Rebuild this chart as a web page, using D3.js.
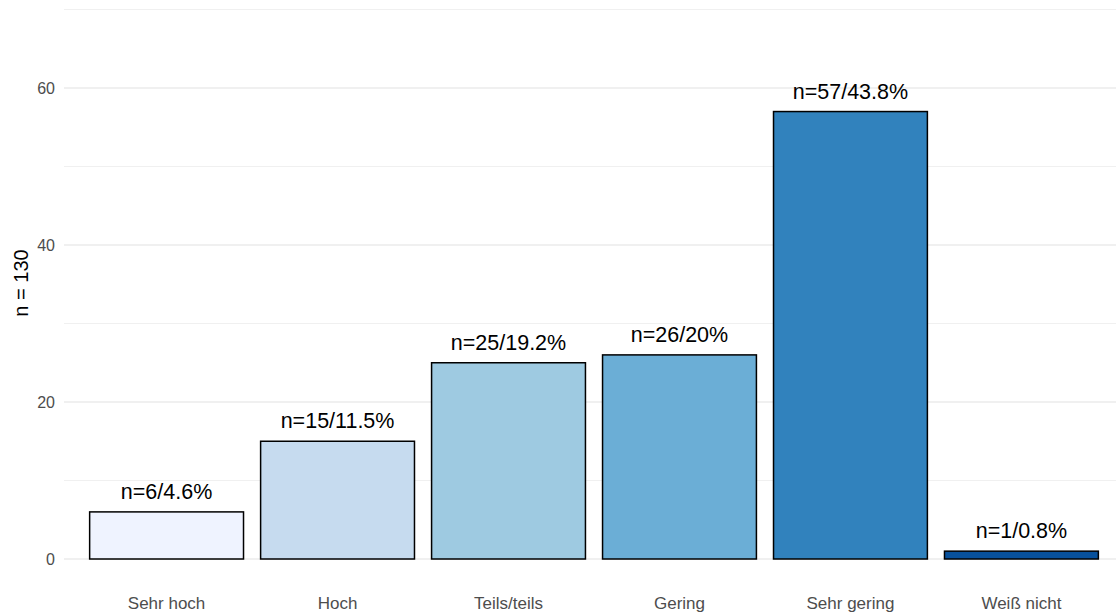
<!DOCTYPE html>
<html>
<head>
<meta charset="utf-8">
<script src="https://cdn.jsdelivr.net/npm/d3@7"></script>
<style>
  html, body { margin: 0; padding: 0; background: #fff; }
  svg { display: block; font-family: "Liberation Sans", Arial, sans-serif; }
</style>
</head>
<body>
<svg id="chart" width="1116" height="614"></svg>
<script>
const categories = ["Sehr hoch", "Hoch", "Teils/teils", "Gering", "Sehr gering", "Weiß nicht"];
const counts = [6, 15, 25, 26, 57, 1];
const labels = ["n=6/4.6%", "n=15/11.5%", "n=25/19.2%", "n=26/20%", "n=57/43.8%", "n=1/0.8%"];
const colors = ["#EFF3FF", "#C6DBEF", "#9ECAE1", "#6BAED6", "#3182BD", "#08519C"];
const majorTicks = [0, 20, 40, 60];
const minorTicks = [10, 30, 50, 70];
const yTitle = "n = 130";

const svg = d3.select("#chart");
const W = 1116;

const x = d3.scaleBand().domain(categories).range([64, 1124]).paddingInner(0.1).paddingOuter(0.15);
const y = d3.scaleLinear().domain([0, 60]).range([559, 88]);

const grid = svg.append("g");
grid.selectAll("line.minor").data(minorTicks).enter().append("line")
  .attr("x1", 64).attr("x2", W)
  .attr("y1", d => y(d)).attr("y2", d => y(d))
  .attr("stroke", "#f0f0f0").attr("stroke-width", 1.2);
grid.selectAll("line.major").data(majorTicks).enter().append("line")
  .attr("x1", 64).attr("x2", W)
  .attr("y1", d => y(d)).attr("y2", d => y(d))
  .attr("stroke", "#ebebeb").attr("stroke-width", 1.5);

// y axis labels
const yAxis = d3.axisLeft(y).tickValues(majorTicks).tickSize(0).tickPadding(9);
const gy = svg.append("g").attr("transform", "translate(64,0)").call(yAxis);
gy.select(".domain").remove();
gy.selectAll("text").attr("fill", "#4d4d4d").style("font-size", "16px")
  .style("font-family", "'Liberation Sans', Arial, sans-serif");

// x axis labels
const xAxis = d3.axisBottom(x).tickSize(0).tickPadding(0);
const gx = svg.append("g").attr("transform", "translate(0,597)").call(xAxis);
gx.select(".domain").remove();
gx.selectAll("text").attr("fill", "#4d4d4d").style("font-size", "17px")
  .style("font-family", "'Liberation Sans', Arial, sans-serif");

// bars
svg.append("g").selectAll("rect").data(categories).enter().append("rect")
  .attr("x", d => x(d))
  .attr("width", x.bandwidth())
  .attr("y", (d, i) => y(counts[i]))
  .attr("height", (d, i) => y(0) - y(counts[i]))
  .attr("fill", (d, i) => colors[i])
  .attr("stroke", "#000").attr("stroke-width", 1.5);

// value labels
svg.append("g").selectAll("text").data(categories).enter().append("text")
  .attr("x", d => x(d) + x.bandwidth() / 2)
  .attr("y", (d, i) => y(counts[i]) - 13)
  .attr("text-anchor", "middle")
  .attr("fill", "#000")
  .style("font-size", "21.5px")
  .text((d, i) => labels[i]);

// y title
svg.append("text")
  .attr("transform", "translate(28,283) rotate(-90)")
  .attr("text-anchor", "middle")
  .attr("fill", "#000")
  .style("font-size", "20px")
  .text(yTitle);
</script>
</body>
</html>
